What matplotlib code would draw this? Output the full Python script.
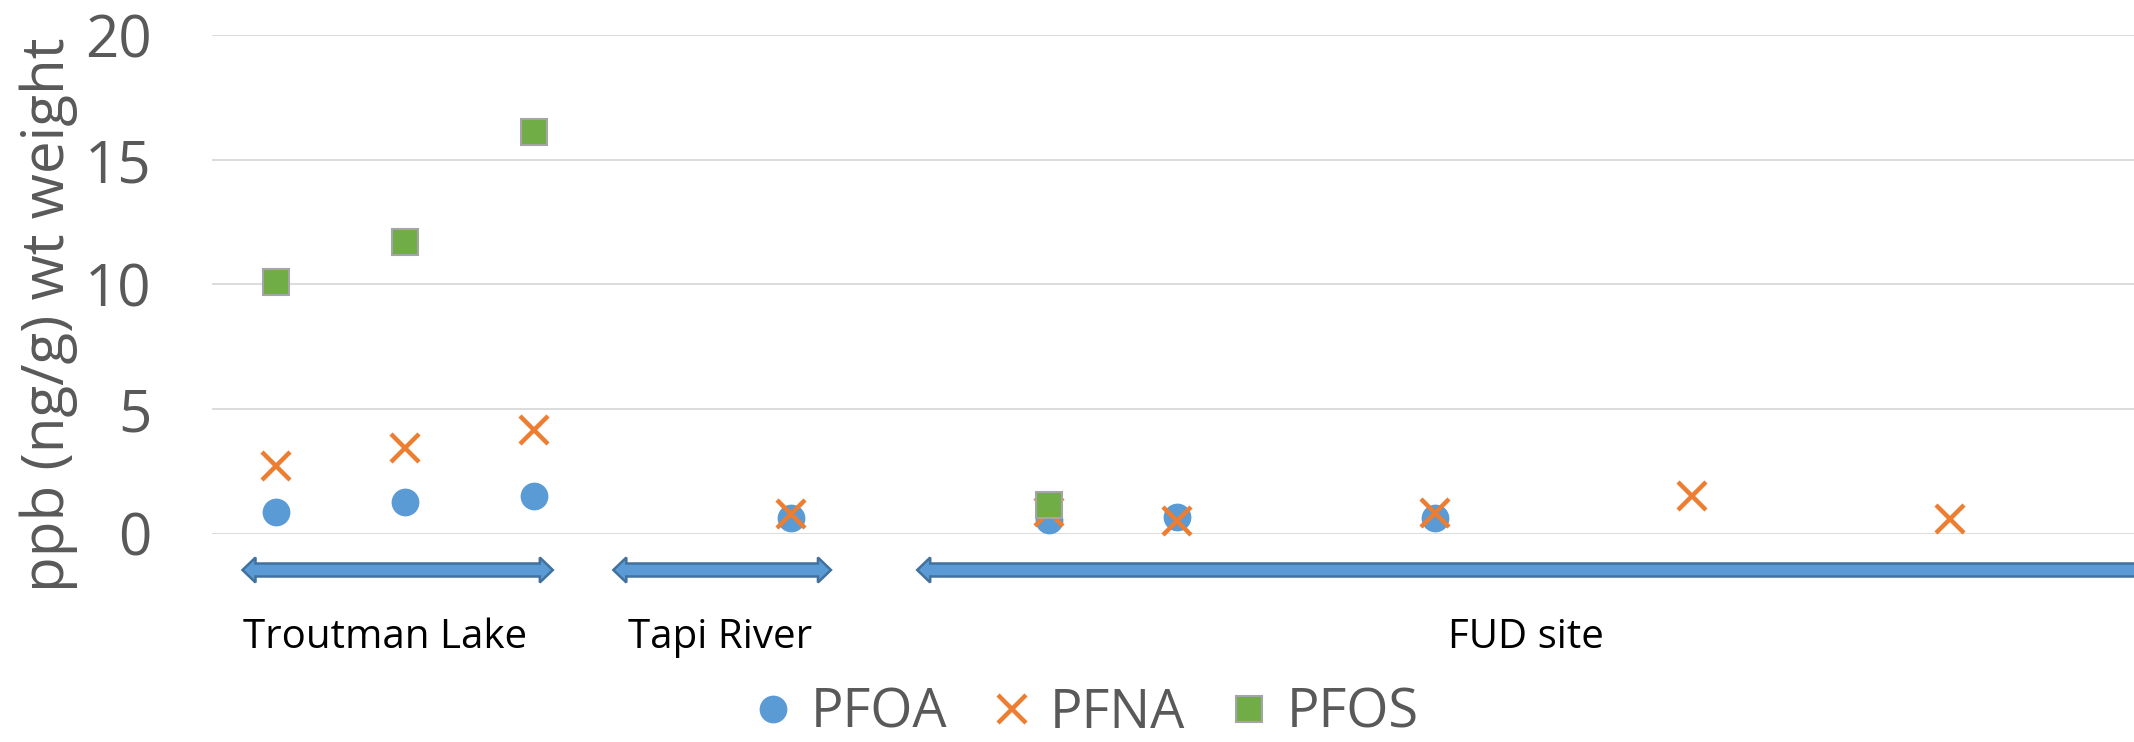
import matplotlib
matplotlib.use("Agg")
import matplotlib.pyplot as plt
from matplotlib.patches import Polygon
from matplotlib.lines import Line2D

# ---- data ----
x_pos = [1, 2, 3, 5, 7, 8, 10, 12, 14]
pfoa = [0.86, 1.26, 1.52, 0.61, 0.54, 0.65, 0.61, None, None]
pfna = [2.72, 3.45, 4.14, 0.78, 0.86, 0.50, 0.84, 1.52, 0.58]
pfos = [10.11, 11.71, 16.12, None, 1.14, None, None, None, None]

groups = ["Troutman Lake", "Tapi River", "FUD site"]
group_label_x = [1.85, 4.45, 10.71]
group_span = [(0.74, 3.15), (3.62, 5.31), (5.98, 16.5)]

y_ticks = [0, 5, 10, 15, 20]
y_label = "ppb (ng/g) wt weight"

C_PFOA = "#5B9BD5"
C_PFNA = "#ED7D31"
C_PFOS = "#70AD47"
GRAY_TXT = "#595959"
FONT = "Open Sans"

W, H, DPI = 2134, 742, 100
fig = plt.figure(figsize=(W / DPI, H / DPI), dpi=DPI)
ax = fig.add_axes([211.6 / W, 208.5 / H, 1 - 211.6 / W, (706.5 - 208.5) / H])
ax.set_xlim(0.5, 15.43)
ax.set_ylim(0, 20)
for s in ax.spines.values():
    s.set_visible(False)
ax.set_xticks([])
ax.set_yticks(y_ticks)
ax.set_yticklabels([str(t) for t in y_ticks], fontsize=42, color=GRAY_TXT, family=FONT)
ax.tick_params(axis="y", length=0, pad=43)
ax.grid(axis="y", color="#D9D9D9", linewidth=1.3)
ax.set_axisbelow(True)

def pts(xs, ys):
    px = [x for x, y in zip(xs, ys) if y is not None]
    py = [y for y in ys if y is not None]
    return px, py

px, py = pts(x_pos, pfoa)
ax.plot(px, py, linestyle="none", marker="o", markersize=20, color=C_PFOA,
        markeredgewidth=0, clip_on=False, zorder=3)
px, py = pts(x_pos, pfna)
ax.plot(px, py, linestyle="none", marker="x", markersize=20, color=C_PFNA,
        markeredgewidth=3.2, clip_on=False, zorder=4)
px, py = pts(x_pos, pfos)
ax.plot(px, py, linestyle="none", marker="s", markersize=19, color=C_PFOS,
        markeredgecolor="#A5A5A5", markeredgewidth=1.5, clip_on=False, zorder=5)

# ---- group arrows and labels ----
fig.canvas.draw()
arrow_y_px = H - 570          # display pixels from bottom
body_h = 13
head_h = 25
head_l = 13
for (x0, x1) in group_span:
    a = ax.transData.transform((x0, 0))[0]
    b = ax.transData.transform((x1, 0))[0]
    yc = arrow_y_px
    poly = [
        (a, yc),
        (a + head_l, yc + head_h / 2),
        (a + head_l, yc + body_h / 2),
        (b - head_l, yc + body_h / 2),
        (b - head_l, yc + head_h / 2),
        (b, yc),
        (b - head_l, yc - head_h / 2),
        (b - head_l, yc - body_h / 2),
        (a + head_l, yc - body_h / 2),
        (a + head_l, yc - head_h / 2),
    ]
    fig.patches.append(Polygon(poly, closed=True, facecolor=C_PFOA,
                               edgecolor="#41719C", linewidth=1.8,
                               transform=None, figure=fig))

for name, gx in zip(groups, group_label_x):
    xd = ax.transData.transform((gx, 0))[0]
    fig.text(xd / W, (H - 638) / H, name, ha="center", va="center",
             fontsize=29, color="black", family=FONT)

fig.text(49 / W, (H - 314.5) / H, y_label, rotation=90, ha="center", va="center",
         fontsize=42, color=GRAY_TXT, family=FONT)

handles = [
    Line2D([], [], linestyle="none", marker="o", markersize=20, color=C_PFOA, markeredgewidth=0),
    Line2D([], [], linestyle="none", marker="x", markersize=20, color=C_PFNA, markeredgewidth=3.2),
    Line2D([], [], linestyle="none", marker="s", markersize=19, color=C_PFOS,
           markeredgecolor="#A5A5A5", markeredgewidth=1.5),
]
leg = fig.legend(handles, ["PFOA", "PFNA", "PFOS"], loc="center",
                 bbox_to_anchor=(1088 / W, 29 / H), ncol=3, frameon=False,
                 prop={"family": FONT, "size": 39}, handlelength=0.6,
                 handletextpad=0.4, columnspacing=0.88, borderpad=0, borderaxespad=0)
for t in leg.get_texts():
    t.set_color(GRAY_TXT)

fig.savefig("out.png", dpi=DPI)
